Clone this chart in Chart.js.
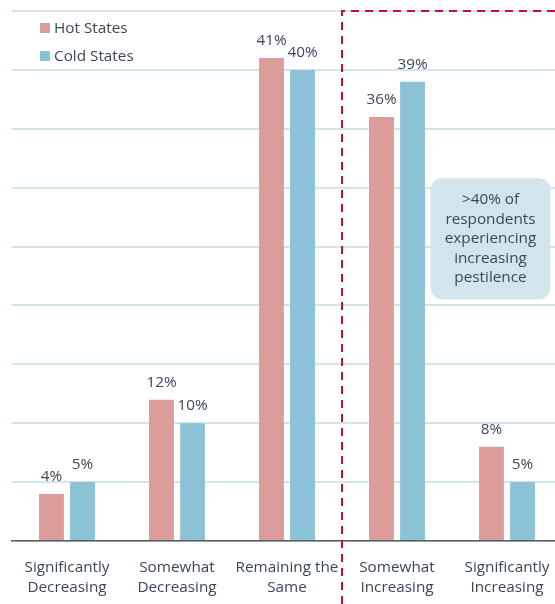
<!DOCTYPE html>
<html>
<head>
<meta charset="utf-8">
<script src="https://cdn.jsdelivr.net/npm/chart.js@4.4.1/dist/chart.umd.min.js"></script>
<style>
  html, body { margin: 0; padding: 0; background: #fff; overflow: hidden; }
  #wrap { position: absolute; left: 0; top: 0; width: 565px; height: 604px; }
</style>
</head>
<body>
<div id="wrap"><canvas id="trendChart"></canvas></div>
<script>
const categories = [
  ["Significantly", "Decreasing"],
  ["Somewhat", "Decreasing"],
  ["Remaining the", "Same"],
  ["Somewhat", "Increasing"],
  ["Significantly", "Increasing"]
];
const hotStates = [4, 12, 41, 36, 8];
const coldStates = [5, 10, 40, 39, 5];
const calloutLines = [">40% of", "respondents", "experiencing", "increasing", "pestilence"];

const TEXT = "#3b4858";
const FONT = "'Open Sans', sans-serif";
const SIZE = 15.3;

// value labels, legend, dashed highlight box and callout
const extras = {
  id: "extras",
  afterDatasetsDraw(chart) {
    const ctx = chart.ctx;
    const x = chart.scales.x, y = chart.scales.y;
    ctx.save();

    // % labels above bars
    ctx.font = SIZE + "px " + FONT;
    ctx.fillStyle = TEXT;
    ctx.textAlign = "center";
    ctx.textBaseline = "alphabetic";
    chart.data.datasets.forEach((ds, i) => {
      chart.getDatasetMeta(i).data.forEach((bar, j) => {
        ctx.fillText(ds.data[j] + "%", bar.x, bar.y - 13);
      });
    });

    // legend
    chart.data.datasets.forEach((ds, i) => {
      const ly = 28 + i * 28;
      ctx.fillStyle = ds.backgroundColor;
      ctx.fillRect(40, ly - 5, 10, 10);
      ctx.fillStyle = TEXT;
      ctx.textAlign = "left";
      ctx.textBaseline = "middle";
      ctx.fillText(ds.label, 54, ly + 1);
    });

    // dashed box around the "increasing" groups
    const dx = x.getPixelForValue(2.5);
    const top = y.getPixelForValue(45);
    ctx.strokeStyle = "#c8102e";
    ctx.lineWidth = 2;
    ctx.setLineDash([8, 6]);
    ctx.beginPath();
    ctx.moveTo(dx, chart.height);
    ctx.lineTo(dx, top);
    ctx.lineTo(chart.width, top);
    ctx.stroke();
    ctx.setLineDash([]);

    // callout bubble
    const cx = x.getPixelForValue(3.85);
    const bw = 120;
    const by0 = y.getPixelForValue(30.8), by1 = y.getPixelForValue(20.5);
    ctx.fillStyle = "#d3e5ec";
    ctx.beginPath();
    ctx.roundRect(cx - bw / 2, by0, bw, by1 - by0, 12);
    ctx.fill();
    ctx.fillStyle = TEXT;
    ctx.textAlign = "center";
    ctx.textBaseline = "middle";
    const lh = 19.5;
    const mid = (by0 + by1) / 2;
    calloutLines.forEach((t, k) => {
      ctx.fillText(t, cx, mid + (k - (calloutLines.length - 1) / 2) * lh);
    });
    ctx.restore();
  }
};

new Chart(document.getElementById("trendChart").getContext("2d"), {
  type: "bar",
  data: {
    labels: categories,
    datasets: [
      { label: "Hot States", data: hotStates, backgroundColor: "#dc9c9a" },
      { label: "Cold States", data: coldStates, backgroundColor: "#8cc2d6" }
    ]
  },
  options: {
    responsive: true,
    maintainAspectRatio: false,
    animation: false,
    layout: { padding: { top: 11, left: 0, right: 3, bottom: 0 } },
    categoryPercentage: 0.565,
    barPercentage: 0.8,
    plugins: {
      legend: { display: false },
      tooltip: { enabled: false }
    },
    scales: {
      x: {
        grid: { display: false },
        border: { color: "#555b61", width: 1.5 },
        ticks: {
          color: TEXT,
          font: { family: FONT, size: SIZE, lineHeight: 1.3 },
          padding: 9,
          maxRotation: 0,
          autoSkip: false
        },
        afterFit(s) { s.height = 63; }
      },
      y: {
        min: 0,
        max: 45,
        ticks: { display: false, stepSize: 5 },
        grid: { color: "#d5e4ec", lineWidth: 2, drawTicks: false },
        border: { display: false },
        afterFit(s) { s.width = 12; }
      }
    }
  },
  plugins: [extras]
});
</script>
</body>
</html>
